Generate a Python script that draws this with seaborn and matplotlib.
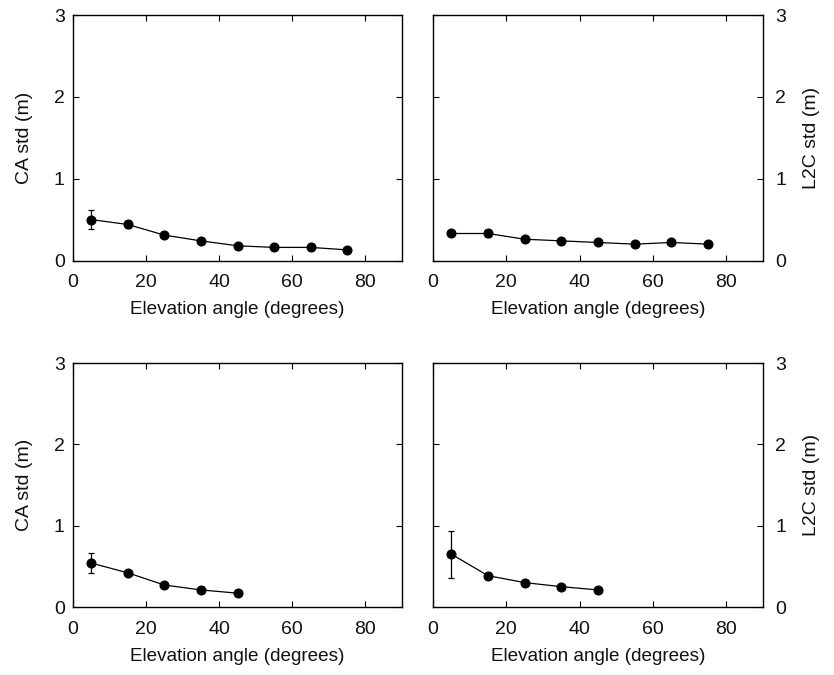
import matplotlib
matplotlib.use("Agg")
import matplotlib.pyplot as plt
import seaborn as sns
import pandas as pd

sns.set_theme(style="white")
plt.rcParams['font.family'] = ['Liberation Sans', 'DejaVu Sans']

# Data
elev_top = [5, 15, 25, 35, 45, 55, 65, 75]
ca_top = [0.50, 0.44, 0.31, 0.24, 0.18, 0.16, 0.16, 0.13]
ca_top_err = [0.12, 0.04, 0.02, 0.02, 0.02, 0.01, 0.01, 0.01]
l2c_top = [0.33, 0.33, 0.26, 0.24, 0.22, 0.20, 0.22, 0.20]
l2c_top_err = [0.03, 0.04, 0.02, 0.02, 0.03, 0.02, 0.02, 0.01]

elev_bot = [5, 15, 25, 35, 45]
ca_bot = [0.54, 0.42, 0.27, 0.21, 0.17]
ca_bot_err = [0.12, 0.02, 0.01, 0.01, 0.01]
l2c_bot = [0.65, 0.385, 0.30, 0.25, 0.21]
l2c_bot_err = [0.29, 0.02, 0.01, 0.01, 0.02]

x_ticks = [0, 20, 40, 60, 80]
y_ticks = [0, 1, 2, 3]
xlabel = "Elevation angle (degrees)"

W, H = 834, 675
fig = plt.figure(figsize=(W / 100, H / 100), dpi=100)

def frac(l, r, t, b):
    return [l / W, 1 - b / H, (r - l) / W, (b - t) / H]

panels = [
    (frac(73, 402, 15, 260.5), elev_top, ca_top, ca_top_err, "CA std (m)", "left"),
    (frac(433, 763, 15, 260.5), elev_top, l2c_top, l2c_top_err, "L2C std (m)", "right"),
    (frac(73, 402, 363, 607), elev_bot, ca_bot, ca_bot_err, "CA std (m)", "left"),
    (frac(433, 763, 363, 607), elev_bot, l2c_bot, l2c_bot_err, "L2C std (m)", "right"),
]

fs = 14
for rect, x, y, e, ylab, side in panels:
    ax = fig.add_axes(rect)
    df = pd.DataFrame({"x": x, "y": y})
    ax.errorbar(x, y, yerr=e, fmt="none", ecolor="black", elinewidth=0.9,
                capsize=2.5, capthick=0.9, zorder=2)
    sns.lineplot(data=df, x="x", y="y", ax=ax, color="black", linewidth=0.9,
                 marker="o", markersize=6.5, markeredgecolor="black",
                 markerfacecolor="black", zorder=3)
    ax.set_xlim(0, 90)
    ax.set_ylim(0, 3)
    ax.set_xticks(x_ticks)
    ax.set_yticks(y_ticks)
    ax.set_xlabel(xlabel, fontsize=13.6, color="#111111", labelpad=7)
    ax.tick_params(direction="in", length=4, width=0.8, colors="black",
                   labelsize=fs, labelcolor="#111111", top=True, bottom=True,
                   left=True, right=True)
    ax.tick_params(axis="x", pad=10)
    ax.tick_params(axis="y", pad=6)
    if side == "right":
        ax.yaxis.set_label_position("right")
        ax.yaxis.tick_right()
        ax.tick_params(axis="y", left=True, right=True, direction="in", pad=9)
        ax.set_ylabel(ylab, fontsize=fs, color="#111111", labelpad=12)
    else:
        ax.set_ylabel(ylab, fontsize=fs, color="#111111", labelpad=15)
    for sp in ax.spines.values():
        sp.set_visible(True)
        sp.set_color("black")
        sp.set_linewidth(1.0)

fig.savefig("out.png", dpi=100, facecolor="white")
